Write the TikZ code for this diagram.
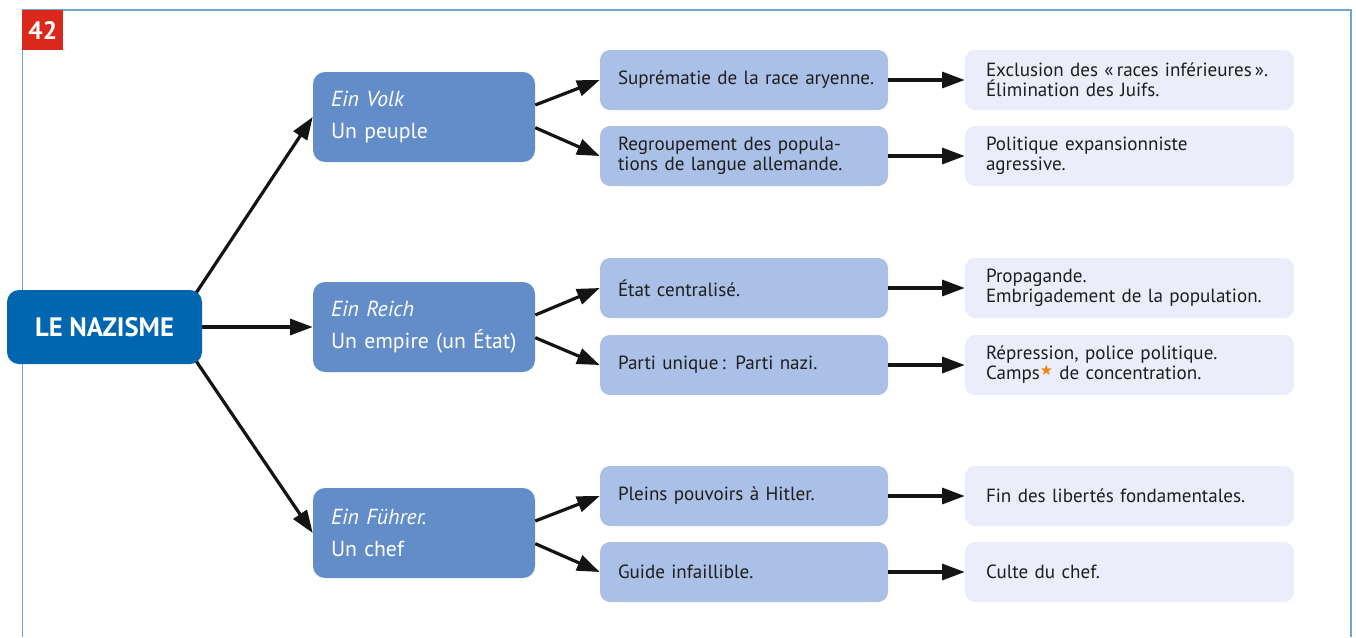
\documentclass[tikz,border=0pt]{standalone}
\usepackage{fontspec}
\setmainfont{PT Sans}
\newfontfamily\starfont{DejaVu Sans}
\usetikzlibrary{arrows.meta,positioning}
\definecolor{frameblue}{RGB}{110,165,215}
\definecolor{numred}{RGB}{218,41,28}
\definecolor{rootblue}{RGB}{0,102,176}
\definecolor{midblue}{RGB}{98,141,201}
\definecolor{paleblue}{RGB}{170,192,230}
\definecolor{mistblue}{RGB}{235,237,250}
\definecolor{inkdark}{RGB}{30,30,30}
\definecolor{staror}{RGB}{240,130,20}
\pgfdeclarelayer{bg}
\pgfsetlayers{bg,main}
\tikzset{
  rootbox/.style={fill=rootblue,text=white,rounded corners=9pt,minimum width=146.25pt,
    minimum height=55.5pt,font=\fontsize{20}{24}\selectfont\bfseries},
  ideabox/.style={fill=midblue,text=white,rounded corners=9pt,text width=150pt,
    inner xsep=8.25pt,minimum height=67.5pt,align=left,font=\fontsize{16.3}{24}\selectfont,
    execute at begin node={\leftskip=5.25pt\relax}},
  meanbox/.style={fill=paleblue,text=inkdark,rounded corners=7.5pt,text width=200pt,
    inner xsep=8pt,minimum height=45pt,align=left,font=\fontsize{14.3}{15}\selectfont,
    execute at begin node={\leftskip=5.5pt\relax}},
  effectbox/.style={fill=mistblue,text=inkdark,rounded corners=7.5pt,text width=215.25pt,
    inner xsep=15.75pt,minimum height=45pt,align=left,font=\fontsize{14.3}{15}\selectfont},
  link/.style={-{Triangle[length=17pt,width=12pt]},line width=2.4pt,draw=black!92}
}
\newcommand{\campstar}{\raisebox{3.5pt}{\fontsize{11}{11}\starfont\textcolor{staror}{★}}}

\begin{document}
\begin{tikzpicture}[x=0.75pt,y=-0.75pt]
  \useasboundingbox (0,0) rectangle (1356,637);
  % frame and number
  \draw[frameblue,line width=1pt] (22.5,637) -- (22.5,10) -- (1351,10) -- (1351,637);
  \node[fill=numred,text=white,anchor=north west,minimum width=30.75pt,minimum height=30pt,
    inner sep=0pt,font=\fontsize{19}{20}\selectfont\bfseries] (num) at (22,10) {42};

  % root and the three ideas
  \node[rootbox] (nazisme) at (104.5,327) {LE NAZISME};
  \node[ideabox] (volk) at (424,117) {\textit{Ein Volk}\\Un peuple};
  \node[ideabox] (reich) at (424,327) {\textit{Ein Reich}\\Un empire (un État)};
  \node[ideabox] (fuehrer) at (424,533) {\textit{Ein Führer.}\\Un chef};

  % meanings
  \node[meanbox] (volkA) at (744,80) {Suprématie de la race aryenne.};
  \node[meanbox] (volkB) at (744,156) {Regroupement des popula-\\tions de langue allemande.};
  \node[meanbox] (reichA) at (744,288) {État centralisé.};
  \node[meanbox] (reichB) at (744,365) {Parti unique\,: Parti nazi.};
  \node[meanbox] (fuehrerA) at (744,496) {Pleins pouvoirs à Hitler.};
  \node[meanbox] (fuehrerB) at (744,572) {Guide infaillible.};

  % consequences
  \node[effectbox] (volkAx) at (1129.5,80) {Exclusion des «\,races inférieures\,».\\Élimination des Juifs.};
  \node[effectbox] (volkBx) at (1129.5,156) {Politique expansionniste\\agressive.};
  \node[effectbox] (reichAx) at (1129.5,288) {Propagande.\\Embrigadement de la population.};
  \node[effectbox] (reichBx) at (1129.5,365) {Répression, police politique.\\Camps\campstar\ de concentration.};
  \node[effectbox] (fuehrerAx) at (1129.5,496) {Fin des libertés fondamentales.};
  \node[effectbox] (fuehrerBx) at (1129.5,572) {Culte du chef.};

  % arrows
  \begin{pgfonlayer}{bg}
    \draw[link] ([shift={(-6,3)}]nazisme.north east) -- (volk.west);
    \draw[link] (nazisme.east) -- (reich.west);
    \draw[link] ([shift={(-6,-3)}]nazisme.south east) -- (fuehrer.west);
  \end{pgfonlayer}
  \foreach \p in {volk,reich,fuehrer} {
    \draw[link] ([yshift=9pt]\p.east) -- (\p A.west);
    \draw[link] ([yshift=-8pt]\p.east) -- (\p B.west);
    \draw[link] (\p A.east) -- (\p Ax.west);
    \draw[link] (\p B.east) -- (\p Bx.west);
  }
\end{tikzpicture}
\end{document}
